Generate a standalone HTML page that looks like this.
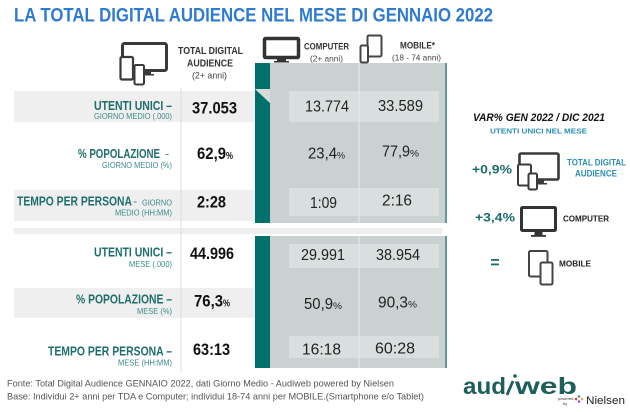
<!DOCTYPE html>
<html>
<head>
<meta charset="utf-8">
<style>
html,body{margin:0;padding:0;background:#fff;}
svg{display:block;}
text{font-family:"Liberation Sans",Arial,sans-serif;}
</style>
</head>
<body>
<svg width="630" height="412" viewBox="0 0 630 412" xmlns="http://www.w3.org/2000/svg">
<rect width="630" height="412" fill="#ffffff"/>

<!-- Title -->
<text x="14" y="21.5" font-size="19.5" font-weight="bold" fill="#2f7bcf" textLength="479" lengthAdjust="spacingAndGlyphs">LA TOTAL DIGITAL AUDIENCE NEL MESE DI GENNAIO 2022</text>

<!-- Left row bands -->
<rect x="14" y="91" width="241" height="31" fill="#efefef"/>
<rect x="14" y="190" width="241" height="31" fill="#efefef"/>
<rect x="14" y="288" width="241" height="30" fill="#efefef"/>
<!-- separator stripe -->
<rect x="14" y="228" width="428" height="6" fill="#efefef"/>

<!-- divider line total column -->
<line x1="181" y1="88" x2="181" y2="372" stroke="#dedede" stroke-width="1"/>

<!-- Panel upper block -->
<rect x="255" y="63" width="192" height="160" fill="#c9d2d1"/>
<!-- Panel lower block -->
<rect x="255" y="236" width="192" height="132" fill="#c9d2d1"/>
<!-- right edge lines -->
<rect x="445" y="63" width="2" height="160" fill="#5e9a97"/>
<rect x="445" y="236" width="2" height="132" fill="#5e9a97"/>

<!-- inner lighter cells -->
<rect x="289" y="91" width="150" height="31" fill="#d9dfde"/>
<rect x="289" y="188" width="150" height="28" fill="#d9dfde"/>
<rect x="289" y="244" width="150" height="24" fill="#d9dfde"/>
<rect x="289" y="336" width="150" height="22" fill="#d9dfde"/>

<!-- mid line -->
<line x1="359" y1="63" x2="359" y2="223" stroke="#e8ecec" stroke-width="1"/>
<line x1="359" y1="236" x2="359" y2="368" stroke="#e8ecec" stroke-width="1"/>

<!-- teal bar -->
<rect x="255" y="63" width="15" height="26" fill="#00706b"/>
<polygon points="255,89 270,103 270,223 255,223" fill="#00706b"/>
<polygon points="255,89 270,89 270,103" fill="#d5dcdb"/>
<rect x="255" y="236" width="15" height="132" fill="#00706b"/>

<!-- Header icons: TDA -->
<g>
  <rect x="122.5" y="43.5" width="44" height="27" rx="2" fill="#fff" stroke="#3a3a3a" stroke-width="3"/>
  <rect x="141" y="72" width="10" height="2.5" fill="#3a3a3a"/>
  <rect x="138" y="74" width="16" height="1.5" fill="#3a3a3a"/>
  <rect x="120.5" y="57" width="12.5" height="22.5" rx="1.5" fill="#fff" stroke="#3a3a3a" stroke-width="2.2"/>
  <rect x="134.5" y="65" width="9.5" height="19.5" rx="1.5" fill="#fff" stroke="#3a3a3a" stroke-width="2"/>
</g>
<!-- Header icon: computer -->
<g>
  <rect x="264.5" y="38.5" width="34" height="19" rx="1" fill="#fff" stroke="#333" stroke-width="3.5"/>
  <rect x="277" y="58" width="9" height="3" fill="#333"/>
  <rect x="274" y="61" width="15" height="1.5" fill="#333"/>
</g>
<!-- Header icon: mobile -->
<g>
  <rect x="367.5" y="35.5" width="14" height="21" rx="1.5" fill="#fff" stroke="#444" stroke-width="2"/>
  <rect x="360.5" y="45.5" width="7.5" height="17" rx="1.5" fill="#fff" stroke="#444" stroke-width="2"/>
</g>

<!-- Header texts -->
<text x="178" y="54" font-size="10" font-weight="bold" fill="#333" textLength="65" lengthAdjust="spacingAndGlyphs">TOTAL DIGITAL</text>
<text x="187" y="66.7" font-size="10" font-weight="bold" fill="#333" textLength="46" lengthAdjust="spacingAndGlyphs">AUDIENCE</text>
<text x="192" y="78.3" font-size="9.5" fill="#444" textLength="35" lengthAdjust="spacingAndGlyphs">(2+ anni)</text>
<text x="304" y="49.3" font-size="9" font-weight="bold" fill="#333" textLength="45" lengthAdjust="spacingAndGlyphs">COMPUTER</text>
<text x="310" y="61.7" font-size="8.5" fill="#444" textLength="33" lengthAdjust="spacingAndGlyphs">(2+ anni)</text>
<text x="400" y="48.3" font-size="9" font-weight="bold" fill="#333" textLength="35" lengthAdjust="spacingAndGlyphs">MOBILE*</text>
<text x="392" y="60.7" font-size="8.5" fill="#444" textLength="49" lengthAdjust="spacingAndGlyphs">(18 - 74 anni)</text>

<!-- Row labels -->
<g font-weight="bold" fill="#1f6e6d" font-size="12.5">
  <text x="94" y="110" textLength="78" lengthAdjust="spacingAndGlyphs">UTENTI UNICI –</text>
  <text x="78" y="158" textLength="82" lengthAdjust="spacingAndGlyphs">% POPOLAZIONE</text>
  <text x="17" y="205.7" textLength="115" lengthAdjust="spacingAndGlyphs">TEMPO PER PERSONA</text>
  <text x="94" y="256.7" textLength="78" lengthAdjust="spacingAndGlyphs">UTENTI UNICI –</text>
  <text x="76" y="303.3" textLength="96" lengthAdjust="spacingAndGlyphs">% POPOLAZIONE –</text>
  <text x="48" y="355.7" textLength="124" lengthAdjust="spacingAndGlyphs">TEMPO PER PERSONA –</text>
</g>
<text x="165" y="158" font-size="12.5" fill="#3a8b8a">-</text>
<text x="133" y="205.7" font-size="12.5" fill="#3a8b8a">-</text>
<g fill="#3a8b8a" font-size="8">
  <text x="94" y="119" textLength="78" lengthAdjust="spacingAndGlyphs">GIORNO MEDIO (.000)</text>
  <text x="102" y="168" textLength="70" lengthAdjust="spacingAndGlyphs">GIORNO MEDIO (%)</text>
  <text x="142" y="205.7" textLength="30" lengthAdjust="spacingAndGlyphs">GIORNO</text>
  <text x="115" y="215.7" textLength="57" lengthAdjust="spacingAndGlyphs">MEDIO (HH:MM)</text>
  <text x="129" y="267" textLength="43" lengthAdjust="spacingAndGlyphs">MESE (.000)</text>
  <text x="137" y="314" textLength="35" lengthAdjust="spacingAndGlyphs">MESE (%)</text>
  <text x="118" y="365.7" textLength="54" lengthAdjust="spacingAndGlyphs">MESE (HH:MM)</text>
</g>

<!-- Total values -->
<g font-weight="bold" fill="#111" font-size="16.5">
  <text x="192" y="113.3" textLength="45" lengthAdjust="spacingAndGlyphs">37.053</text>
  <text x="197" y="159" textLength="29" lengthAdjust="spacingAndGlyphs">62,9</text>
  <text x="197" y="207.7" textLength="29" lengthAdjust="spacingAndGlyphs">2:28</text>
  <text x="190" y="259" textLength="44" lengthAdjust="spacingAndGlyphs">44.996</text>
  <text x="194" y="306.7" textLength="29" lengthAdjust="spacingAndGlyphs">76,3</text>
  <text x="193" y="355" textLength="37" lengthAdjust="spacingAndGlyphs">63:13</text>
</g>
<g font-weight="bold" fill="#111" font-size="10">
  <text x="226" y="159" textLength="7" lengthAdjust="spacingAndGlyphs">%</text>
  <text x="223" y="306.7" textLength="7" lengthAdjust="spacingAndGlyphs">%</text>
</g>

<!-- Panel values -->
<g fill="#222" font-size="16">
  <text x="305" y="111.7" textLength="44" lengthAdjust="spacingAndGlyphs">13.774</text>
  <text x="378" y="111" textLength="45" lengthAdjust="spacingAndGlyphs">33.589</text>
  <text x="308" y="158.3" textLength="29" lengthAdjust="spacingAndGlyphs">23,4</text>
  <text x="382" y="156.7" textLength="28" lengthAdjust="spacingAndGlyphs">77,9</text>
  <text x="310" y="208" textLength="27" lengthAdjust="spacingAndGlyphs">1:09</text>
  <text x="382" y="205.7" textLength="30" lengthAdjust="spacingAndGlyphs">2:16</text>
  <text x="301" y="260" textLength="44" lengthAdjust="spacingAndGlyphs">29.991</text>
  <text x="376" y="260" textLength="44" lengthAdjust="spacingAndGlyphs">38.954</text>
  <text x="304" y="309" textLength="29" lengthAdjust="spacingAndGlyphs">50,9</text>
  <text x="378" y="307.3" textLength="30" lengthAdjust="spacingAndGlyphs">90,3</text>
  <text x="302" y="354.3" textLength="39" lengthAdjust="spacingAndGlyphs">16:18</text>
  <text x="375" y="353.3" textLength="40" lengthAdjust="spacingAndGlyphs">60:28</text>
</g>
<g fill="#222" font-size="9.5">
  <text x="337" y="158.3" textLength="8" lengthAdjust="spacingAndGlyphs">%</text>
  <text x="410" y="156.7" textLength="9" lengthAdjust="spacingAndGlyphs">%</text>
  <text x="333" y="309" textLength="9" lengthAdjust="spacingAndGlyphs">%</text>
  <text x="408" y="307.3" textLength="9" lengthAdjust="spacingAndGlyphs">%</text>
</g>

<!-- Right section -->
<text x="473" y="121" font-size="10.7" font-weight="bold" font-style="italic" fill="#111" textLength="132" lengthAdjust="spacingAndGlyphs">VAR% GEN 2022 / DIC 2021</text>
<text x="490" y="133.7" font-size="7.5" font-weight="bold" fill="#2e8fb3" textLength="97" lengthAdjust="spacingAndGlyphs">UTENTI UNICI NEL MESE</text>

<text x="472" y="173.3" font-size="12" font-weight="bold" fill="#1d6b6b" textLength="40" lengthAdjust="spacingAndGlyphs">+0,9%</text>
<text x="475" y="221.7" font-size="12" font-weight="bold" fill="#1d6b6b" textLength="40" lengthAdjust="spacingAndGlyphs">+3,4%</text>
<rect x="491" y="259" width="8" height="1.8" fill="#1d6b6b"/>
<rect x="491" y="263.5" width="8" height="1.8" fill="#1d6b6b"/>

<text x="567" y="165.7" font-size="9" font-weight="bold" fill="#2e8fb3" textLength="59" lengthAdjust="spacingAndGlyphs">TOTAL DIGITAL</text>
<text x="575" y="176.7" font-size="9" font-weight="bold" fill="#2e8fb3" textLength="42" lengthAdjust="spacingAndGlyphs">AUDIENCE</text>
<text x="563" y="221.7" font-size="8.5" font-weight="bold" fill="#222" textLength="46" lengthAdjust="spacingAndGlyphs">COMPUTER</text>
<text x="559" y="266.7" font-size="8.5" font-weight="bold" fill="#222" textLength="32" lengthAdjust="spacingAndGlyphs">MOBILE</text>

<!-- Right icons TDA -->
<g>
  <rect x="519.5" y="153.5" width="39" height="26" rx="1.5" fill="#fff" stroke="#3a3a3a" stroke-width="2.6"/>
  <rect x="535" y="180.5" width="9" height="2.5" fill="#3a3a3a"/>
  <rect x="532" y="183" width="15" height="1.5" fill="#3a3a3a"/>
  <rect x="518" y="164.5" width="13" height="21" rx="1.5" fill="#fff" stroke="#3a3a3a" stroke-width="2"/>
  <rect x="528.5" y="173.5" width="8.5" height="16" rx="1.5" fill="#fff" stroke="#3a3a3a" stroke-width="2"/>
</g>
<!-- Right icon computer -->
<g>
  <rect x="521.5" y="207.5" width="34" height="23" rx="1" fill="#fff" stroke="#333" stroke-width="3"/>
  <rect x="534.5" y="232" width="8" height="3" fill="#333"/>
  <rect x="531" y="235" width="15" height="1.8" fill="#333"/>
</g>
<!-- Right icon mobile -->
<g>
  <rect x="529" y="251" width="18.5" height="25.5" rx="1.5" fill="#fff" stroke="#444" stroke-width="2"/>
  <rect x="540.5" y="262.5" width="12" height="22" rx="1.5" fill="#fff" stroke="#444" stroke-width="2"/>
</g>

<!-- Footer -->
<text x="7" y="386.5" font-size="9.5" fill="#555" textLength="387" lengthAdjust="spacingAndGlyphs">Fonte: Total Digital Audience GENNAIO 2022, dati Giorno Medio - Audiweb powered by Nielsen</text>
<text x="7" y="399.5" font-size="9.5" fill="#555" textLength="417" lengthAdjust="spacingAndGlyphs">Base:  Individui 2+ anni per TDA e Computer; individui 18-74 anni per MOBILE.(Smartphone e/o Tablet)</text>

<!-- Logo -->
<text x="463" y="394" font-size="23" font-weight="bold" fill="#1e5e5b" textLength="43" lengthAdjust="spacingAndGlyphs">aud</text>
<line x1="507" y1="395" x2="513" y2="381" stroke="#1e5e5b" stroke-width="2.8"/>
<circle cx="515" cy="376" r="1.8" fill="#1e5e5b"/>
<text x="515" y="394" font-size="23" font-weight="bold" fill="#1e5e5b" textLength="62" lengthAdjust="spacingAndGlyphs">web</text>
<text x="558" y="400" font-size="4" fill="#333">powered</text>
<text x="563" y="405" font-size="4" fill="#333">by</text>
<circle cx="576" cy="399" r="1.3" fill="#e63946"/>
<circle cx="579" cy="396.5" r="1.3" fill="#2a9d8f"/>
<circle cx="579" cy="401.5" r="1.3" fill="#8a4fff"/>
<circle cx="582" cy="399" r="1.3" fill="#f4a261"/>
<text x="586" y="404" font-size="11" fill="#222" textLength="39" lengthAdjust="spacingAndGlyphs">Nielsen</text>
</svg>
</body>
</html>
